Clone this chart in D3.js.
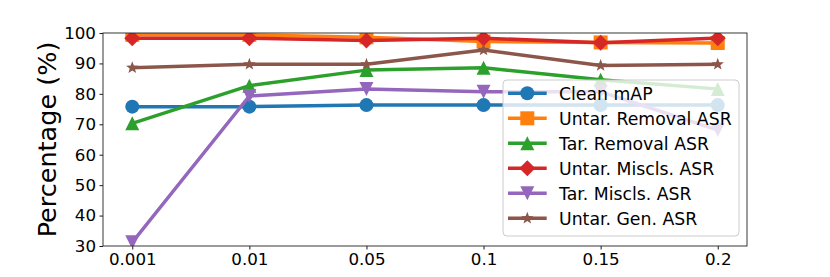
<!DOCTYPE html>
<html>
<head>
<meta charset="utf-8">
<script src="https://cdn.jsdelivr.net/npm/d3@7"></script>
<style>
  body { margin: 0; background: #fff; }
  svg { display: block; font-family: "DejaVu Sans", sans-serif; }
</style>
</head>
<body>
<div id="chart"></div>
<script>
// x categories (poisoning ratio)
const ratios = ["0.001", "0.01", "0.05", "0.1", "0.15", "0.2"];
const yTicks = [30, 40, 50, 60, 70, 80, 90, 100];

// series values
const cleanMAP      = [75.8, 75.8, 76.3, 76.3, 76.3, 76.3];
const untarRemoval  = [99.4, 99.4, 98.6, 97.2, 96.9, 96.7];
const tarRemoval    = [70.3, 82.7, 87.8, 88.6, 84.6, 81.6];
const untarMiscls   = [98.3, 98.3, 97.5, 98.3, 96.8, 98.3];
const tarMiscls     = [31.2, 79.3, 81.6, 80.7, 80.7, 68.1];
const untarGen      = [88.6, 89.7, 89.7, 94.4, 89.3, 89.7];

const series = [
  { name: "Clean mAP",           values: cleanMAP,     color: "#1f77b4", marker: "o" },
  { name: "Untar. Removal ASR",  values: untarRemoval, color: "#ff7f0e", marker: "s" },
  { name: "Tar. Removal ASR",    values: tarRemoval,   color: "#2ca02c", marker: "^" },
  { name: "Untar. Miscls. ASR",  values: untarMiscls,  color: "#d62728", marker: "D" },
  { name: "Tar. Miscls. ASR",    values: tarMiscls,    color: "#9467bd", marker: "v" },
  { name: "Untar. Gen. ASR",     values: untarGen,     color: "#8c564b", marker: "*" },
];

const width = 830, height = 277;
const marginLeft = 103, marginRight = 83, marginTop = 33, marginBottom = 31;

const svg = d3.select("#chart").append("svg")
  .attr("width", width).attr("height", height)
  .attr("viewBox", [0, 0, width, height]);

const x = d3.scalePoint().domain(ratios)
  .range([marginLeft, width - marginRight]).padding(0.25);
const y = d3.scaleLinear().domain([30, 100])
  .range([height - marginBottom, marginTop]);

// marker shapes, roughly matplotlib sizes
function markerPath(m) {
  const r = 7;
  switch (m) {
    case "o": return d3.symbol(d3.symbolCircle, Math.PI * r * r)();
    case "s": return `M${-r},${-r}H${r}V${r}H${-r}Z`;
    case "^": return `M0,${-r}L${r},${r}L${-r},${r}Z`;
    case "v": return `M0,${r}L${r},${-r}L${-r},${-r}Z`;
    case "D": { const d = 8; return `M0,${-d}L${d},0L0,${d}L${-d},0Z`; }
    case "*": {
      const pts = [];
      for (let i = 0; i < 10; i++) {
        const rad = i % 2 === 0 ? 6.5 : 2.7;
        const a = -Math.PI / 2 + i * Math.PI / 5;
        pts.push([rad * Math.cos(a), rad * Math.sin(a)]);
      }
      return "M" + pts.map(p => p.join(",")).join("L") + "Z";
    }
  }
}

svg.append("defs").append("clipPath").attr("id", "plotclip")
  .append("rect")
  .attr("x", marginLeft).attr("y", marginTop)
  .attr("width", width - marginLeft - marginRight)
  .attr("height", height - marginTop - marginBottom);

const line = d3.line().x((d, i) => x(ratios[i])).y(d => y(d));

const plot = svg.append("g").attr("clip-path", "url(#plotclip)");
series.forEach(s => {
  const g = plot.append("g");
  g.append("path")
    .attr("d", line(s.values))
    .attr("fill", "none")
    .attr("stroke", s.color)
    .attr("stroke-width", 3.5)
    .attr("stroke-linejoin", "round")
    .attr("stroke-linecap", "square");
  g.selectAll("path.mk")
    .data(s.values)
    .join("path")
    .attr("class", "mk")
    .attr("d", markerPath(s.marker))
    .attr("transform", (d, i) => `translate(${x(ratios[i])},${y(d)})`)
    .attr("fill", s.color);
});

// axes
const xAxis = svg.append("g")
  .attr("transform", `translate(0,${height - marginBottom})`)
  .call(d3.axisBottom(x).tickSizeOuter(0).tickSize(3.5).tickPadding(4));
const yAxis = svg.append("g")
  .attr("transform", `translate(${marginLeft},0)`)
  .call(d3.axisLeft(y).tickValues(yTicks).tickSizeOuter(0).tickSize(3.5).tickPadding(3.5));
[xAxis, yAxis].forEach(a => {
  a.selectAll("text").attr("font-size", 16.7).attr("fill", "#000")
    .attr("font-family", "DejaVu Sans, sans-serif");
  a.selectAll("line").attr("stroke", "#000").attr("stroke-width", 0.9);
  a.select(".domain").remove();
});

// frame
svg.append("rect")
  .attr("x", marginLeft).attr("y", marginTop)
  .attr("width", width - marginLeft - marginRight)
  .attr("height", height - marginTop - marginBottom)
  .attr("fill", "none").attr("stroke", "#222").attr("stroke-width", 0.9);

svg.append("text")
  .attr("transform", `translate(56,${(marginTop + height - marginBottom) / 2}) rotate(-90)`)
  .attr("text-anchor", "middle")
  .attr("font-size", 25.5)
  .text("Percentage (%)");

// legend
const lg = svg.append("g").attr("transform", "translate(503,80)");
lg.append("rect")
  .attr("width", 236).attr("height", 156).attr("rx", 4)
  .attr("fill", "#fff").attr("fill-opacity", 0.8)
  .attr("stroke", "#ccc").attr("stroke-width", 1);
series.forEach((s, i) => {
  const cy = 13.3 + i * 25;
  lg.append("line")
    .attr("x1", 5).attr("x2", 43.7).attr("y1", cy).attr("y2", cy)
    .attr("stroke", s.color).attr("stroke-width", 3.5);
  lg.append("path")
    .attr("d", markerPath(s.marker))
    .attr("transform", `translate(24.3,${cy})`)
    .attr("fill", s.color);
  lg.append("text")
    .attr("x", 56).attr("y", cy).attr("dy", "0.36em")
    .attr("font-size", 17.3)
    .text(s.name);
});
</script>
</body>
</html>
